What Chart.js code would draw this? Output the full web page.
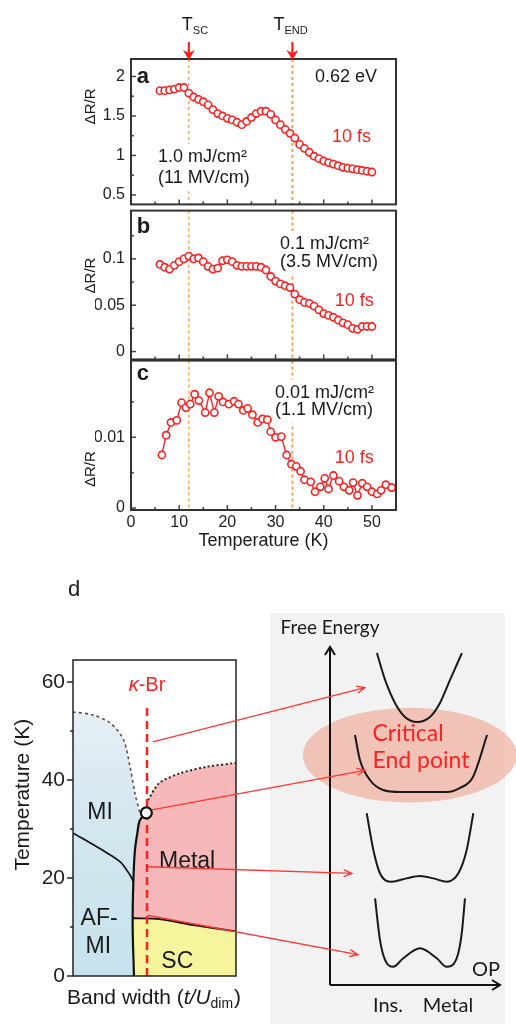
<!DOCTYPE html>
<html>
<head>
<meta charset="utf-8">
<script src="https://cdn.jsdelivr.net/npm/chart.js@4.4.1/dist/chart.umd.min.js"></script>
<style>
  body { margin: 0; background: #fff; }
  #page { position: relative; width: 516px; height: 1024px; overflow: hidden; background: #fff; }
  #page canvas { position: absolute; }
</style>
</head>
<body>
<div id="page">
  <canvas id="panelA" width="516" height="220" style="left:0;top:0"></canvas>
  <canvas id="panelB" width="516" height="180" style="left:0;top:195px"></canvas>
  <canvas id="panelC" width="516" height="210" style="left:0;top:345px"></canvas>
  <canvas id="panelD" width="262" height="464" style="left:0;top:560px"></canvas>
  <canvas id="panelE" width="254" height="424" style="left:262px;top:600px"></canvas>
  <canvas id="links" width="516" height="1024" style="left:0;top:0;pointer-events:none"></canvas>
</div>
<script>
const FONT = '"Liberation Sans", Arial, sans-serif';
const RED = '#ff1f1f';

// ---- panels a-c: dR/R vs temperature ----
const tempA = [6, 7, 8, 9, 10, 11, 12, 13, 14, 15, 16, 17, 18, 19, 20, 21, 22, 23, 24, 25, 26, 27, 28,
  29, 30, 31, 32, 33, 34, 35, 36, 37, 38, 39, 40, 41, 42, 43, 44, 45, 46, 47, 48, 49, 50];
const dRA = [1.82, 1.82, 1.83, 1.84, 1.86, 1.86, 1.79, 1.74, 1.71, 1.68, 1.64, 1.58, 1.53, 1.50, 1.47,
  1.45, 1.42, 1.39, 1.43, 1.48, 1.53, 1.56, 1.56, 1.52, 1.45, 1.39, 1.33, 1.28, 1.22, 1.14, 1.09, 1.04,
  0.99, 0.96, 0.93, 0.91, 0.89, 0.87, 0.85, 0.84, 0.83, 0.82, 0.81, 0.80, 0.79];
const tempB = [6, 7, 8, 9, 10, 11, 12, 13, 14, 15, 16, 17, 18, 19, 20, 21, 22, 23, 24, 25, 26, 27, 28,
  29, 30, 31, 32, 33, 34, 35, 36, 37, 38, 39, 40, 41, 42, 43, 44, 45, 46, 47, 48, 49, 50];
const dRB = [0.094, 0.091, 0.089, 0.093, 0.097, 0.100, 0.103, 0.100, 0.101, 0.097, 0.092, 0.089, 0.090,
  0.098, 0.099, 0.097, 0.093, 0.092, 0.092, 0.092, 0.092, 0.091, 0.088, 0.081, 0.076, 0.073, 0.071,
  0.069, 0.062, 0.056, 0.053, 0.052, 0.049, 0.045, 0.041, 0.039, 0.037, 0.034, 0.031, 0.029, 0.025,
  0.024, 0.027, 0.027, 0.027];
const tempC = [6.4, 7.3, 8.3, 9.5, 10.5, 11.4, 12.3, 13.2, 14.1, 15.4, 16.3, 17.3, 18.2, 19.1, 20.3,
  21.4, 22.3, 23.3, 24.2, 25.2, 26.3, 27.3, 28.3, 29.0, 30.0, 31.2, 32.3, 33.3, 34.3, 35.2, 36.0, 37.3,
  38.2, 39.3, 40.2, 41.0, 42.0, 43.2, 44.2, 45.3, 46.1, 47.0, 48.0, 49.0, 50.0, 51.1, 51.9, 52.9, 54.1];
const dRC = [0.0075, 0.0103, 0.0121, 0.0124, 0.0149, 0.0142, 0.0147, 0.0161, 0.0152, 0.0135, 0.0163,
  0.0135, 0.0158, 0.0150, 0.0147, 0.0151, 0.0147, 0.0138, 0.0141, 0.0132, 0.0121, 0.0126, 0.0125,
  0.0108, 0.0100, 0.0101, 0.0075, 0.0062, 0.0059, 0.0052, 0.0040, 0.0037, 0.0023, 0.0030, 0.0042,
  0.0027, 0.0046, 0.0038, 0.0030, 0.0025, 0.0036, 0.0018, 0.0035, 0.0030, 0.0023, 0.0020, 0.0025,
  0.0033, 0.0029];
const tempTicks = [0, 10, 20, 30, 40, 50];
const tempMinor = [5, 15, 25, 35, 45];
const ticksA = [0.5, 1, 1.5, 2];
const minorA = [0.75, 1.25, 1.75];
const ticksB = [0, 0.05, 0.1];
const minorB = [0.025, 0.075, 0.125];
const ticksC = [0, 0.01];
const minorC = [0.005, 0.015];
const markerTemps = [12, 33.5];
const markerLabels = [['T', 'SC'], ['T', 'END']];

// ---- panel d: phase diagram (band width fraction, temperature K) ----
const miCrossBW = [0, 0.12, 0.23, 0.31, 0.35, 0.38, 0.41];
const miCrossT = [53.9, 53.3, 51.6, 48.2, 42.7, 37.3, 33.3];
const firstOrderBW = [0.45, 0.41, 0.395, 0.38, 0.37, 0.366, 0.374];
const firstOrderT = [33.3, 31.8, 29.2, 25.7, 19.0, 10, 0];
const afBW = [0, 0.18, 0.29, 0.35, 0.37];
const afT = [29.2, 25.7, 23.3, 20.6, 19.3];
const metalCrossBW = [0.46, 0.53, 0.66, 0.82, 1.0];
const metalCrossT = [35.9, 39.4, 41.4, 42.7, 43.5];
const scBW = [0.368, 0.53, 0.74, 0.98, 1.0];
const scT = [11.8, 11.6, 10.4, 9.2, 9.1];
const hBrBW = [0.454, 0.454];
const hBrT = [0, 55];
const cepBW = [0.45];
const cepT = [33.3];
const dTicks = [0, 20, 40, 60];
const dMinor = [10, 30, 50];

// ---- panel e: free energy vs order parameter sketches ----
const fe1OP = [2.76, 3.24, 3.82, 4.41, 5.12, 5.88, 6.47, 7.06, 7.76];
const fe1F = [19.64, 18.05, 16.69, 15.86, 15.56, 15.86, 16.69, 18.05, 19.64];
const fe2OP = [1.47, 1.76, 2.35, 3.12, 4.12, 6.88, 7.65, 8.41, 9.24];
const fe2F = [14.79, 13.31, 12.13, 11.54, 11.42, 11.42, 11.66, 12.31, 14.79];
const fe3OP = [2.16, 2.55, 2.94, 3.63, 4.51, 5.29, 6.08, 6.86, 7.55, 8.04, 8.43];
const fe3F = [10.16, 7.99, 6.61, 6.11, 6.31, 6.45, 6.31, 6.11, 6.61, 7.99, 10.16];
const fe4OP = [2.65, 2.94, 3.24, 3.72, 4.31, 5.29, 6.28, 6.86, 7.45, 7.75, 7.94];
const fe4F = [5.13, 2.66, 1.48, 1.08, 1.58, 2.17, 1.58, 1.08, 1.58, 3.06, 5.13];

// links from the kappa-Br line (d) to the sketches (e)
const linkFromBW = [0.49, 0.483, 0.462, 0.456];
const linkFromT = [47.8, 33.9, 22.3, 12.4];
const linkToOP = [2.06, 2.06, 1.29, 1.65];
const linkToF = [17.6, 12.7, 6.6, 1.8];

const pts = (xs, ys) => xs.map((v, i) => ({x: v, y: ys[i]}));

function drawSub(ctx, x, y, main, sub, size) {
  ctx.font = size + 'px ' + FONT;
  ctx.fillText(main, x, y);
  const w = ctx.measureText(main).width;
  ctx.font = Math.round(size * 0.62) + 'px ' + FONT;
  ctx.fillText(sub, x + w, y + size * 0.32);
}

const panelDeco = {
  id: 'panelDeco',
  beforeDatasetsDraw(chart, args, o) {
    const {ctx, chartArea: a, scales: {x, y}} = chart;
    ctx.save();
    ctx.strokeStyle = '#f5a04a';
    ctx.setLineDash([3, 3]);
    markerTemps.forEach((t, i) => {
      ctx.lineWidth = i ? 2 : 1.4;
      const px = x.getPixelForValue(t);
      ctx.beginPath(); ctx.moveTo(px, a.top); ctx.lineTo(px, a.bottom); ctx.stroke();
    });
    ctx.setLineDash([]);
    ctx.fillStyle = '#fff';
    o.notes.forEach(n => {
      if (!n.back) return;
      ctx.font = n.font;
      const w = ctx.measureText(n.text).width;
      ctx.fillRect(x.getPixelForValue(n.x) - 3, y.getPixelForValue(n.y) - 13, w + 6, 26);
    });
    ctx.restore();
  },
  afterDatasetsDraw(chart, args, o) {
    const {ctx, chartArea: a, scales: {x, y}} = chart;
    ctx.save();
    ctx.strokeStyle = '#444';
    ctx.lineWidth = 1.5;
    const tick = (x1, y1, x2, y2) => { ctx.beginPath(); ctx.moveTo(x1, y1); ctx.lineTo(x2, y2); ctx.stroke(); };
    tempTicks.forEach(v => { const px = x.getPixelForValue(v); tick(px, a.bottom, px, a.bottom - 5); });
    tempMinor.forEach(v => { const px = x.getPixelForValue(v); tick(px, a.bottom, px, a.bottom - 3); });
    o.yTicks.forEach(v => { const py = y.getPixelForValue(v); tick(a.left, py, a.left + 5, py); });
    o.yMinor.forEach(v => { const py = y.getPixelForValue(v); tick(a.left, py, a.left + 3, py); });
    ctx.strokeStyle = '#333';
    ctx.lineWidth = 2;
    ctx.strokeRect(a.left, a.top, a.width, a.height);

    ctx.textBaseline = 'middle';
    ctx.textAlign = 'left';
    o.notes.forEach(n => {
      ctx.font = n.font;
      ctx.fillStyle = n.color || '#1a1a1a';
      ctx.fillText(n.text, x.getPixelForValue(n.x), y.getPixelForValue(n.y));
    });
    // y title
    ctx.save();
    ctx.translate(91, y.getPixelForValue(o.titleY));
    ctx.rotate(-Math.PI / 2);
    ctx.textAlign = 'center';
    ctx.fillStyle = '#1a1a1a';
    ctx.font = '15px ' + FONT;
    ctx.fillText('\u0394R/R', 0, 0);
    ctx.restore();

    if (o.markers) {
      markerTemps.forEach((t, i) => {
        const px = x.getPixelForValue(t);
        ctx.fillStyle = '#1a1a1a';
        ctx.textAlign = 'left';
        drawSub(ctx, px + (i ? -19 : -7), a.top - 34, markerLabels[i][0], markerLabels[i][1], 18);
        ctx.strokeStyle = RED;
        ctx.fillStyle = RED;
        ctx.lineWidth = 2.2;
        ctx.beginPath(); ctx.moveTo(px, a.top - 17); ctx.lineTo(px, a.top - 6); ctx.stroke();
        ctx.beginPath();
        ctx.moveTo(px - 6, a.top - 9); ctx.lineTo(px, a.top + 1); ctx.lineTo(px + 6, a.top - 9);
        ctx.lineTo(px, a.top - 6); ctx.closePath(); ctx.fill();
      });
    }
    ctx.restore();
  }
};

function makePanel(id, temps, vals, yMin, yMax, yTicks, yMinor, pad, showX, deco) {
  return new Chart(document.getElementById(id), {
    type: 'line',
    data: {
      datasets: [{
        data: pts(temps, vals),
        borderColor: RED,
        borderWidth: 1.4,
        pointRadius: 3.6,
        pointBorderWidth: 1.6,
        pointBackgroundColor: '#fff',
        pointBorderColor: RED,
        tension: 0
      }]
    },
    options: {
      responsive: false,
      animation: false,
      devicePixelRatio: 1,
      layout: {padding: pad},
      plugins: {
        legend: {display: false},
        tooltip: {enabled: false},
        panelDeco: Object.assign({yTicks: yTicks, yMinor: yMinor}, deco)
      },
      scales: {
        x: {
          type: 'linear', min: 0, max: 55, display: showX,
          grid: {display: false, drawTicks: false},
          border: {display: false},
          ticks: {font: {family: FONT, size: 16}, color: '#222', padding: 3},
          afterBuildTicks: s => { s.ticks = tempTicks.map(v => ({value: v})); },
          afterFit: s => { s.height = showX ? 45 : 0; },
          title: {display: true, text: 'Temperature (K)', color: '#1a1a1a',
            font: {family: FONT, size: 18}, padding: {top: 0, bottom: 3}}
        },
        y: {
          type: 'linear', min: yMin, max: yMax,
          grid: {display: false, drawTicks: false},
          border: {display: false},
          ticks: {font: {family: FONT, size: 16}, color: '#222', padding: 6, callback: v => String(v)},
          afterBuildTicks: s => { s.ticks = yTicks.map(v => ({value: v})); },
          afterFit: s => { s.width = 36; }
        }
      }
    },
    plugins: [panelDeco]
  });
}

const NOTE = '18px ' + FONT;
makePanel('panelA', tempA, dRA, 0.380, 2.221, ticksA, minorA,
  {top: 59, bottom: 11, left: 95, right: 120}, false, {
    markers: true, titleY: 1.62,
    notes: [
      {text: 'a', x: 1.2, y: 2.0, font: 'bold 22px ' + FONT},
      {text: '0.62 eV', x: 38.2, y: 1.99, font: NOTE},
      {text: '10 fs', x: 41.7, y: 1.23, font: NOTE, color: RED},
      {text: '1.0 mJ/cm\u00b2', x: 5.6, y: 0.98, font: NOTE, back: true},
      {text: '(11 MV/cm)', x: 5.6, y: 0.71, font: NOTE, back: true}
    ]
  });
makePanel('panelB', tempB, dRB, -0.0085, 0.1521, ticksB, minorB,
  {top: 14, bottom: 15, left: 95, right: 120}, false, {
    titleY: 0.082,
    notes: [
      {text: 'b', x: 1.2, y: 0.135, font: 'bold 22px ' + FONT},
      {text: '0.1 mJ/cm\u00b2', x: 30.9, y: 0.116, font: NOTE, back: true},
      {text: '(3.5 MV/cm)', x: 30.9, y: 0.097, font: NOTE, back: true},
      {text: '10 fs', x: 42.3, y: 0.055, font: NOTE, color: RED}
    ]
  });
makePanel('panelC', tempC, dRC, -0.00028, 0.02085, ticksC, minorC,
  {top: 15, bottom: 0, left: 95, right: 120}, true, {
    titleY: 0.0055,
    notes: [
      {text: 'c', x: 1.2, y: 0.019, font: 'bold 22px ' + FONT},
      {text: '0.01 mJ/cm\u00b2', x: 29.9, y: 0.0163, font: NOTE, back: true},
      {text: '(1.1 MV/cm)', x: 29.9, y: 0.0138, font: NOTE, back: true},
      {text: '10 fs', x: 42.3, y: 0.0070, font: NOTE, color: RED}
    ]
  });

// ---- panel d ----
const dDeco = {
  id: 'dDeco',
  afterDatasetsDraw(chart) {
    const {ctx, chartArea: a, scales: {x, y}} = chart;
    ctx.save();
    ctx.strokeStyle = '#222';
    ctx.lineWidth = 1.5;
    ctx.strokeRect(a.left, a.top, a.width, a.height);
    const tick = (py, len) => { ctx.beginPath(); ctx.moveTo(a.left - len, py); ctx.lineTo(a.left, py); ctx.stroke(); };
    dTicks.forEach(v => tick(y.getPixelForValue(v), 6));
    dMinor.forEach(v => tick(y.getPixelForValue(v), 3));

    ctx.fillStyle = '#1a1a1a';
    ctx.textAlign = 'center';
    ctx.textBaseline = 'middle';
    ctx.font = '23px ' + FONT;
    [['MI', 0.166, 33.3], ['Metal', 0.70, 23.3], ['AF-', 0.16, 11.8], ['MI', 0.155, 5.9], ['SC', 0.64, 2.9]]
      .forEach(([t, bw, tk]) => ctx.fillText(t, x.getPixelForValue(bw), y.getPixelForValue(tk)));

    // kappa-Br label
    ctx.fillStyle = RED;
    const k = '\u03ba';
    ctx.font = '20px ' + FONT;
    const wBr = ctx.measureText('-Br').width;
    ctx.font = 'italic 20px ' + FONT;
    const wK = ctx.measureText(k).width;
    const cx = x.getPixelForValue(hBrBW[0]);
    const ky = y.getPixelForValue(59.4);
    ctx.textAlign = 'left';
    ctx.fillText(k, cx - (wK + wBr) / 2, ky);
    ctx.font = '20px ' + FONT;
    ctx.fillText('-Br', cx - (wK + wBr) / 2 + wK, ky);

    // axis titles
    ctx.fillStyle = '#1a1a1a';
    ctx.save();
    ctx.translate(23, y.getPixelForValue(37));
    ctx.rotate(-Math.PI / 2);
    ctx.textAlign = 'center';
    ctx.font = '21px ' + FONT;
    ctx.fillText('Temperature (K)', 0, 0);
    ctx.restore();

    let bx = 67;
    const by = a.bottom + 22;
    ctx.textAlign = 'left';
    ctx.font = '21px ' + FONT;
    ctx.fillText('Band width (', bx, by); bx += ctx.measureText('Band width (').width;
    ctx.font = 'italic 21px ' + FONT;
    ctx.fillText('t/U', bx, by); bx += ctx.measureText('t/U').width;
    ctx.font = '14px ' + FONT;
    ctx.fillText('dim', bx, by + 6); bx += ctx.measureText('dim').width;
    ctx.font = '21px ' + FONT;
    ctx.fillText(')', bx + 1, by);

    ctx.font = '22px ' + FONT;
    ctx.fillText('d', 68, a.top - 70);
    ctx.restore();
  }
};

const chartD = new Chart(document.getElementById('panelD'), {
  type: 'line',
  data: {
    datasets: [
      {data: [{x: Math.min(...firstOrderBW) - 0.01, y: 0}].concat(pts(firstOrderBW, firstOrderT).reverse(), pts(metalCrossBW, metalCrossT)),
        fill: 'origin', backgroundColor: 'rgb(246,184,184)', borderWidth: 0, tension: 0.3, order: 10},
      {data: [{x: Math.max(...firstOrderBW), y: 0}].concat(pts(firstOrderBW, firstOrderT).reverse(), pts(miCrossBW, miCrossT).reverse()),
        fill: 'origin', borderWidth: 0, tension: 0.3, order: 9,
        backgroundColor: c => {
          const a = c.chart.chartArea;
          if (!a) return 'rgb(205,228,236)';
          const g = c.chart.ctx.createLinearGradient(0, a.bottom, 0, a.top);
          g.addColorStop(0, 'rgb(198,226,236)');
          g.addColorStop(0.55, 'rgb(214,232,240)');
          g.addColorStop(1, 'rgb(240,244,248)');
          return g;
        }},
      {data: pts(scBW, scT), fill: 'origin', backgroundColor: 'rgb(246,245,158)', borderWidth: 0, tension: 0.3, order: 8},
      {data: pts(miCrossBW, miCrossT), borderColor: '#555', borderDash: [3, 3], borderWidth: 1.6, tension: 0.3, order: 3},
      {data: pts(metalCrossBW, metalCrossT), borderColor: '#222', borderDash: [2, 2.5], borderWidth: 2, tension: 0.3, order: 3},
      {data: pts(firstOrderBW, firstOrderT), borderColor: '#111', borderWidth: 2.2, tension: 0.3, order: 3},
      {data: pts(afBW, afT), borderColor: '#111', borderWidth: 1.7, tension: 0.3, order: 3},
      {data: pts(scBW, scT), borderColor: '#111', borderWidth: 1.9, tension: 0.3, order: 3},
      {data: pts(hBrBW, hBrT), borderColor: RED, borderDash: [8, 5], borderWidth: 2.5, order: 1},
      {data: pts(cepBW, cepT), showLine: false, pointRadius: 5.5, pointBorderWidth: 2.2,
        pointBackgroundColor: '#fff', pointBorderColor: '#111', order: 0}
    ]
  },
  options: {
    responsive: false,
    animation: false,
    devicePixelRatio: 1,
    layout: {padding: {top: 100, right: 26, bottom: 48, left: 0}},
    elements: {point: {radius: 0}},
    plugins: {legend: {display: false}, tooltip: {enabled: false}},
    scales: {
      x: {type: 'linear', min: 0, max: 1, display: false},
      y: {
        type: 'linear', min: 0, max: 64.5,
        grid: {display: false, drawTicks: false},
        border: {display: false},
        ticks: {font: {family: FONT, size: 21}, color: '#222', padding: 8},
        afterBuildTicks: s => { s.ticks = dTicks.map(v => ({value: v})); },
        afterFit: s => { s.width = 73; }
      }
    }
  },
  plugins: [dDeco]
});

// ---- panel e ----
const eDeco = {
  id: 'eDeco',
  beforeDatasetsDraw(chart) {
    const {ctx, chartArea: a, scales: {x, y}} = chart;
    ctx.save();
    ctx.fillStyle = '#f2f2f2';
    ctx.fillRect(a.left - 60, a.top - 34, a.width + 65, chart.height);
    ctx.fillStyle = 'rgba(240,165,145,0.62)';
    ctx.beginPath();
    const ex = x.getPixelForValue(4.7), ey = y.getPixelForValue(13.6);
    ctx.ellipse(ex, ey, x.getPixelForValue(11.0) - ex, ey - y.getPixelForValue(16.4), 0, 0, Math.PI * 2);
    ctx.fill();
    ctx.restore();
  },
  afterDatasetsDraw(chart) {
    const {ctx, chartArea: a, scales: {x, y}} = chart;
    ctx.save();
    const ox = x.getPixelForValue(0), oy = y.getPixelForValue(0);
    const tx = x.getPixelForValue(10), ty = y.getPixelForValue(20);
    ctx.strokeStyle = '#111';
    ctx.lineWidth = 2;
    ctx.beginPath(); ctx.moveTo(ox, oy); ctx.lineTo(ox, ty); ctx.moveTo(ox, oy); ctx.lineTo(tx, oy); ctx.stroke();
    ctx.beginPath();
    ctx.moveTo(ox - 5, ty + 8); ctx.lineTo(ox, ty); ctx.lineTo(ox + 5, ty + 8);
    ctx.moveTo(tx - 8, oy - 5); ctx.lineTo(tx, oy); ctx.lineTo(tx - 8, oy + 5);
    ctx.stroke();

    const EF = '"Lato", "Open Sans", sans-serif';
    ctx.fillStyle = '#1a1a1a';
    ctx.textBaseline = 'middle';
    ctx.textAlign = 'center';
    ctx.font = '19px ' + EF;
    ctx.fillText('Free Energy', ox, ty - 19);
    ctx.font = '20px ' + EF;
    ctx.textAlign = 'right';
    ctx.fillText('OP', tx, oy - 15);
    ctx.textAlign = 'center';
    ctx.fillText('Ins.', x.getPixelForValue(3.41), oy + 21);
    ctx.fillText('Metal', x.getPixelForValue(6.94), oy + 21);

    ctx.fillStyle = '#ff2020';
    ctx.textAlign = 'left';
    ctx.font = '23px ' + EF;
    ctx.fillText('Critical', x.getPixelForValue(2.5), y.getPixelForValue(14.9));
    ctx.fillText('End point', x.getPixelForValue(2.5), y.getPixelForValue(13.3));

    ctx.fillStyle = '#111';
    ctx.textAlign = 'center';
    ctx.font = 'bold 24px "Liberation Serif", serif';
    ctx.fillText('e', x.getPixelForValue(-0.47), a.top - 60);
    ctx.restore();
  }
};

const curveStyle = {borderColor: '#1a1a1a', borderWidth: 2, cubicInterpolationMode: 'monotone', pointRadius: 0};
const chartE = new Chart(document.getElementById('panelE'), {
  type: 'line',
  data: {
    datasets: [
      Object.assign({data: pts(fe1OP, fe1F)}, curveStyle),
      Object.assign({data: pts(fe2OP, fe2F)}, curveStyle),
      Object.assign({data: pts(fe3OP, fe3F)}, curveStyle),
      Object.assign({data: pts(fe4OP, fe4F)}, curveStyle)
    ]
  },
  options: {
    responsive: false,
    animation: false,
    devicePixelRatio: 1,
    layout: {padding: {top: 47, right: 16, bottom: 39, left: 68}},
    plugins: {legend: {display: false}, tooltip: {enabled: false}},
    scales: {
      x: {type: 'linear', min: 0, max: 10, display: false},
      y: {type: 'linear', min: 0, max: 20, display: false}
    }
  },
  plugins: [eDeco]
});

// ---- red links between d and e ----
(function drawLinks() {
  const cv = document.getElementById('links');
  const ctx = cv.getContext('2d');
  const dEl = chartD.canvas, eEl = chartE.canvas;
  ctx.strokeStyle = '#ff3535';
  ctx.lineWidth = 1.3;
  linkFromBW.forEach((bw, i) => {
    const x1 = dEl.offsetLeft + chartD.scales.x.getPixelForValue(bw);
    const y1 = dEl.offsetTop + chartD.scales.y.getPixelForValue(linkFromT[i]);
    const x2 = eEl.offsetLeft + chartE.scales.x.getPixelForValue(linkToOP[i]);
    const y2 = eEl.offsetTop + chartE.scales.y.getPixelForValue(linkToF[i]);
    const ang = Math.atan2(y2 - y1, x2 - x1);
    ctx.beginPath();
    ctx.moveTo(x1, y1); ctx.lineTo(x2, y2);
    ctx.moveTo(x2 - 9 * Math.cos(ang - 0.4), y2 - 9 * Math.sin(ang - 0.4));
    ctx.lineTo(x2, y2);
    ctx.lineTo(x2 - 9 * Math.cos(ang + 0.4), y2 - 9 * Math.sin(ang + 0.4));
    ctx.stroke();
  });
})();
</script>
</body>
</html>
